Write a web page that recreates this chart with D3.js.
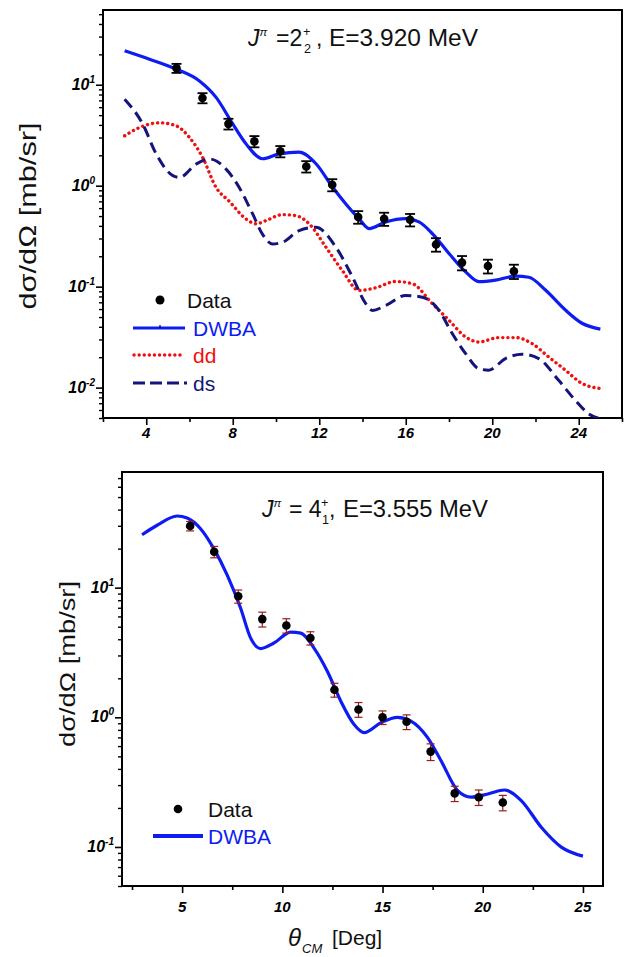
<!DOCTYPE html>
<html>
<head>
<meta charset="utf-8">
<script src="https://cdn.jsdelivr.net/npm/d3@7"></script>
<style>
  body { margin: 0; background: #fff; }
  svg { display: block; font-family: "Liberation Sans", Arial, Helvetica, sans-serif; }
</style>
</head>
<body>
<svg id="chart" width="625" height="957"></svg>
<script>
// ---------- measured angles (deg, CM) ----------
const thetaExp = [5.4, 6.6, 7.8, 9.0, 10.2, 11.4, 12.6, 13.8, 15.0, 16.2, 17.4, 18.6, 19.8, 21.0];

// ---------- 2+_2 state, E = 3.920 MeV ----------
const xs2 = [14.6, 7.4, 4.1, 2.75, 2.19, 1.55, 1.02, 0.49, 0.47, 0.46, 0.262, 0.173, 0.160, 0.142];
const err2 = [1.5, 0.85, 0.5, 0.35, 0.28, 0.2, 0.14, 0.07, 0.07, 0.065, 0.04, 0.028, 0.025, 0.023];

const dwba2Theta = [3.0, 4.15, 5.38, 6.46, 7.23, 8.0, 8.61, 9.38, 10.15, 11.07, 11.85, 12.61, 13.23, 13.84, 14.3, 15.08, 16.0, 16.61, 17.23, 18.0, 18.77, 19.38, 20.15, 21.07, 21.69, 22.46, 23.38, 24.15, 25.0];
const dwba2Value = [21.7, 17.9, 14.3, 10.9, 7.5, 4.09, 2.6, 1.85, 2.07, 2.15, 1.65, 0.97, 0.66, 0.47, 0.376, 0.438, 0.472, 0.438, 0.336, 0.213, 0.14, 0.112, 0.116, 0.127, 0.124, 0.0925, 0.0587, 0.0434, 0.038];

const dd2Theta = [3.0, 3.69, 4.61, 5.38, 6.0, 6.61, 7.23, 7.84, 8.61, 9.08, 9.54, 10.3, 10.92, 11.54, 12.31, 13.07, 13.84, 14.61, 15.54, 16.3, 17.23, 18.0, 18.77, 19.38, 20.3, 21.07, 21.84, 22.61, 23.38, 24.15, 25.0];
const dd2Value = [3.12, 3.77, 4.2, 3.92, 3.0, 1.9, 0.96, 0.70, 0.469, 0.419, 0.451, 0.517, 0.505, 0.418, 0.246, 0.144, 0.0917, 0.0975, 0.1125, 0.107, 0.0678, 0.0464, 0.0317, 0.0283, 0.0313, 0.0313, 0.0273, 0.0201, 0.0149, 0.011, 0.0098];

const ds2Theta = [3.0, 3.84, 4.46, 5.23, 5.54, 6.31, 6.92, 7.69, 8.3, 8.92, 9.38, 9.84, 10.3, 11.07, 11.84, 12.77, 13.54, 14.15, 14.46, 15.08, 16.0, 16.77, 17.54, 18.15, 18.77, 19.38, 19.84, 20.61, 21.38, 22.15, 23.07, 23.84, 24.46, 25.0];
const ds2Value = [7.19, 4.07, 2.06, 1.26, 1.21, 1.64, 1.84, 1.46, 0.96, 0.525, 0.33, 0.265, 0.275, 0.359, 0.387, 0.246, 0.124, 0.0678, 0.0582, 0.0652, 0.0818, 0.0787, 0.0582, 0.0343, 0.0217, 0.0154, 0.0149, 0.0194, 0.0214, 0.0194, 0.0118, 0.0075, 0.0055, 0.0049];

// ---------- 4+_1 state, E = 3.555 MeV ----------
const xs4 = [29.9, 18.9, 8.59, 5.72, 5.11, 4.09, 1.63, 1.15, 1.0, 0.924, 0.544, 0.259, 0.242, 0.22];
const err4 = [2.5, 1.9, 1.0, 0.75, 0.65, 0.48, 0.2, 0.15, 0.12, 0.12, 0.08, 0.035, 0.033, 0.03];

const dwba4Theta = [3.0, 3.75, 4.75, 5.25, 5.92, 6.58, 7.25, 7.92, 8.42, 8.92, 9.58, 10.42, 10.92, 11.58, 12.25, 12.92, 13.58, 14.08, 14.92, 15.75, 16.42, 17.25, 17.92, 18.75, 19.42, 20.25, 21.08, 21.92, 22.92, 23.92, 25.0];
const dwba4Value = [25.6, 30.3, 35.7, 34.5, 28.5, 20.0, 12.5, 6.93, 4.08, 3.39, 3.74, 4.54, 4.46, 3.42, 2.26, 1.33, 0.88, 0.762, 0.909, 1.0, 0.935, 0.697, 0.462, 0.272, 0.242, 0.256, 0.275, 0.228, 0.142, 0.0998, 0.085];

// ---------- axis ticks ----------
const xTicksTop = [4, 8, 12, 16, 20, 24];
const xMinorTop = [2, 6, 10, 14, 18, 22, 26];
const yExpTop = [1, 0, -1, -2];
const xTicksBottom = [5, 10, 15, 20, 25];
const xMinorBottom = [2.5, 7.5, 12.5, 17.5, 22.5];
const yExpBottom = [1, 0, -1];

const BLUE = "#0d1df2", RED = "#f01010", NAVY = "#14147a", ERRRED = "#9a1c1c";
const svg = d3.select("#chart");
const zip = (a, b) => a.map((v, i) => [v, b[i]]);

function drawPanel(o) {
  const g = svg.append("g");
  const x = d3.scaleLinear().domain(o.xDomain).range([o.left, o.right]);
  const y = d3.scaleLog().domain(o.yDomain).range([o.bottom, o.top]);

  const clipId = "clip" + o.id;
  g.append("clipPath").attr("id", clipId).append("rect")
    .attr("x", o.left).attr("y", o.top).attr("width", o.right - o.left).attr("height", o.bottom - o.top);

  // x axis: major + minor ticks
  const xAxis = g.append("g").attr("transform", `translate(0,${o.bottom})`)
    .call(d3.axisBottom(x).tickValues(o.xMajor).tickSize(7).tickFormat(""));
  xAxis.select(".domain").remove();
  xAxis.selectAll("line").attr("stroke", "#000").attr("stroke-width", 1.6);
  const xAxisMinor = g.append("g").attr("transform", `translate(0,${o.bottom})`)
    .call(d3.axisBottom(x).tickValues(o.xMinor).tickSize(4).tickFormat(""));
  xAxisMinor.select(".domain").remove();
  xAxisMinor.selectAll("line").attr("stroke", "#000").attr("stroke-width", 1.6);
  g.selectAll(null).data(o.xMajor).enter().append("text")
    .attr("x", d => x(d)).attr("y", o.bottom + o.xLabelDy)
    .attr("text-anchor", "middle")
    .style("font-size", o.tickFont + "px").style("font-weight", "bold").style("font-style", "italic")
    .text(d => d);

  // y axis: decades + log minor ticks
  const majors = o.yExp.map(e => Math.pow(10, e));
  const minors = y.ticks().filter(v => !majors.some(m => Math.abs(v - m) / m < 1e-6));
  const yAxis = g.append("g").attr("transform", `translate(${o.left},0)`)
    .call(d3.axisLeft(y).tickValues(majors).tickSize(7).tickFormat(""));
  yAxis.select(".domain").remove();
  yAxis.selectAll("line").attr("stroke", "#000").attr("stroke-width", 1.6);
  const yAxisMinor = g.append("g").attr("transform", `translate(${o.left},0)`)
    .call(d3.axisLeft(y).tickValues(minors).tickSize(4).tickFormat(""));
  yAxisMinor.select(".domain").remove();
  yAxisMinor.selectAll("line").attr("stroke", "#000").attr("stroke-width", 1.4);
  const yl = g.selectAll(null).data(o.yExp).enter().append("text")
    .attr("x", o.left - 8).attr("y", e => y(Math.pow(10, e)) + 5)
    .attr("text-anchor", "end")
    .style("font-weight", "bold").style("font-style", "italic");
  yl.append("tspan").style("font-size", o.tickFont + 1 + "px").text("10");
  yl.append("tspan").attr("dy", -7).style("font-size", o.tickFont - 5 + "px").text(e => e);

  // frame
  g.append("rect").attr("x", o.left).attr("y", o.top)
    .attr("width", o.right - o.left).attr("height", o.bottom - o.top)
    .attr("fill", "none").attr("stroke", "#000").attr("stroke-width", 2);

  // y title
  const yt = g.append("text")
    .attr("transform", `translate(${o.yTitleX},${o.yTitleY}) rotate(-90)`)
    .attr("text-anchor", "middle").style("font-size", o.yTitleFont + "px").attr("fill", "#111");
  yt.text("dσ/dΩ [mb/sr]");
  if (o.yTitleLen) yt.attr("textLength", o.yTitleLen).attr("lengthAdjust", "spacingAndGlyphs");

  // curves
  const line = d3.line().x(d => x(d[0])).y(d => y(d[1])).curve(d3.curveMonotoneX);
  const cg = g.append("g").attr("clip-path", `url(#${clipId})`);
  o.curves.forEach(c => {
    cg.append("path").datum(c.data).attr("d", line)
      .attr("fill", "none").attr("stroke", c.color).attr("stroke-width", c.width)
      .attr("stroke-dasharray", c.dash || null).attr("stroke-linecap", c.cap || "butt");
  });

  // data points with error bars
  const pts = g.append("g");
  o.points.forEach(p => {
    const cx = x(p[0]), lo = y(p[1] - p[2]), hi = y(p[1] + p[2]);
    pts.append("line").attr("x1", cx).attr("x2", cx).attr("y1", lo).attr("y2", hi)
      .attr("stroke", o.errColor).attr("stroke-width", o.errWidth);
    [lo, hi].forEach(yy => pts.append("line")
      .attr("x1", cx - o.capW / 2).attr("x2", cx + o.capW / 2).attr("y1", yy).attr("y2", yy)
      .attr("stroke", o.errColor).attr("stroke-width", o.errWidth));
    pts.append("circle").attr("cx", cx).attr("cy", y(p[1])).attr("r", o.markR).attr("fill", "#000");
  });

  return { g, x, y };
}

// state label: J^pi = n_k^+, E=... MeV
function stateLabel(g, o) {
  const t = g.append("g").style("font-size", o.size + "px").attr("fill", "#111");
  t.append("text").attr("x", o.jx).attr("y", o.base).style("font-style", "italic").text("J");
  t.append("text").attr("x", o.jx + o.size * 0.5).attr("y", o.base - o.size * 0.45)
    .style("font-style", "italic").style("font-size", o.size * 0.5 + "px").text("π");
  t.append("text").attr("x", o.eqx).attr("y", o.base).text(o.eq);
  t.append("text").attr("x", o.scx).attr("y", o.base - o.size * 0.42).style("font-size", o.size * 0.55 + "px").text("+");
  t.append("text").attr("x", o.scx + 1).attr("y", o.base + o.size * 0.3).style("font-size", o.size * 0.55 + "px").text(o.sub);
  t.append("text").attr("x", o.cx).attr("y", o.base).text(",");
  t.append("text").attr("x", o.ex).attr("y", o.base)
    .attr("textLength", o.elen).attr("lengthAdjust", "spacingAndGlyphs").text(o.energy);
}

// ---------- upper panel ----------
const upperPanel = drawPanel({
  id: "a", left: 103, right: 622, top: 10, bottom: 418,
  xDomain: [2, 26], yDomain: [0.005, 55],
  xMajor: xTicksTop, xMinor: xMinorTop, yExp: yExpTop,
  tickFont: 15, xLabelDy: 20,
  yTitleX: 36, yTitleY: 216, yTitleFont: 24, yTitleLen: 187,
  curves: [
    { data: zip(dd2Theta, dd2Value), color: RED, width: 3.4, dash: "0.1 5", cap: "round" },
    { data: zip(ds2Theta, ds2Value), color: NAVY, width: 3, dash: "11 6" },
    { data: zip(dwba2Theta, dwba2Value), color: BLUE, width: 3.2 }
  ],
  points: thetaExp.map((t, i) => [t, xs2[i], err2[i]]),
  errColor: "#000", errWidth: 1.8, capW: 10, markR: 4.3
});

stateLabel(upperPanel.g, {
  size: 23, base: 46, jx: 248, eq: "=2", eqx: 276, scx: 303, sub: "2", cx: 316,
  ex: 329, elen: 149, energy: "E=3.920 MeV"
});

// legend of the upper panel
(function () {
  const l = upperPanel.g.append("g").style("font-size", "21px");
  l.append("circle").attr("cx", 160).attr("cy", 300).attr("r", 4.5).attr("fill", "#000");
  l.append("text").attr("x", 187).attr("y", 308).attr("fill", "#111").text("Data");
  l.append("line").attr("x1", 133).attr("x2", 185).attr("y1", 328).attr("y2", 328).attr("stroke", BLUE).attr("stroke-width", 3.2);
  l.append("line").attr("x1", 160).attr("x2", 160).attr("y1", 325).attr("y2", 328).attr("stroke", "#000").attr("stroke-width", 1.2);
  l.append("text").attr("x", 193).attr("y", 336).attr("fill", BLUE).text("DWBA");
  l.append("line").attr("x1", 134).attr("x2", 185).attr("y1", 355).attr("y2", 355).attr("stroke", RED).attr("stroke-width", 3.4).attr("stroke-dasharray", "0.1 5").attr("stroke-linecap", "round");
  l.append("text").attr("x", 193).attr("y", 363).attr("fill", RED).text("dd");
  l.append("line").attr("x1", 133).attr("x2", 187).attr("y1", 383).attr("y2", 383).attr("stroke", NAVY).attr("stroke-width", 3).attr("stroke-dasharray", "12 5");
  l.append("text").attr("x", 193).attr("y", 391).attr("fill", NAVY).text("ds");
})();

// ---------- lower panel ----------
const lowerPanel = drawPanel({
  id: "b", left: 122, right: 603, top: 472, bottom: 886,
  xDomain: [2, 26], yDomain: [0.05, 78],
  xMajor: xTicksBottom, xMinor: xMinorBottom, yExp: yExpBottom,
  tickFont: 15, xLabelDy: 26,
  yTitleX: 75, yTitleY: 664, yTitleFont: 22, yTitleLen: 166,
  curves: [
    { data: zip(dwba4Theta, dwba4Value), color: BLUE, width: 3.2 }
  ],
  points: thetaExp.map((t, i) => [t, xs4[i], err4[i]]),
  errColor: ERRRED, errWidth: 1.2, capW: 8, markR: 4.3
});

stateLabel(lowerPanel.g, {
  size: 23, base: 517, jx: 262, eq: "= 4", eqx: 289, scx: 321, sub: "1", cx: 329,
  ex: 343, elen: 145, energy: "E=3.555 MeV"
});

// legend of the lower panel
(function () {
  const l = lowerPanel.g.append("g").style("font-size", "21px");
  l.append("circle").attr("cx", 178).attr("cy", 809).attr("r", 4.3).attr("fill", "#000");
  l.append("text").attr("x", 208).attr("y", 817).attr("fill", "#111").text("Data");
  l.append("line").attr("x1", 153).attr("x2", 203).attr("y1", 836).attr("y2", 836).attr("stroke", BLUE).attr("stroke-width", 4);
  l.append("text").attr("x", 208).attr("y", 844).attr("fill", BLUE).text("DWBA");
})();

// x title
(function () {
  const t = svg.append("g").attr("fill", "#111");
  t.append("text").attr("x", 288).attr("y", 946).style("font-size", "24px").style("font-style", "italic").text("θ");
  t.append("text").attr("x", 302).attr("y", 953).style("font-size", "13px").style("font-style", "italic").text("CM");
  t.append("text").attr("x", 332).attr("y", 945).style("font-size", "21px").text("[Deg]");
})();
</script>
</body>
</html>
